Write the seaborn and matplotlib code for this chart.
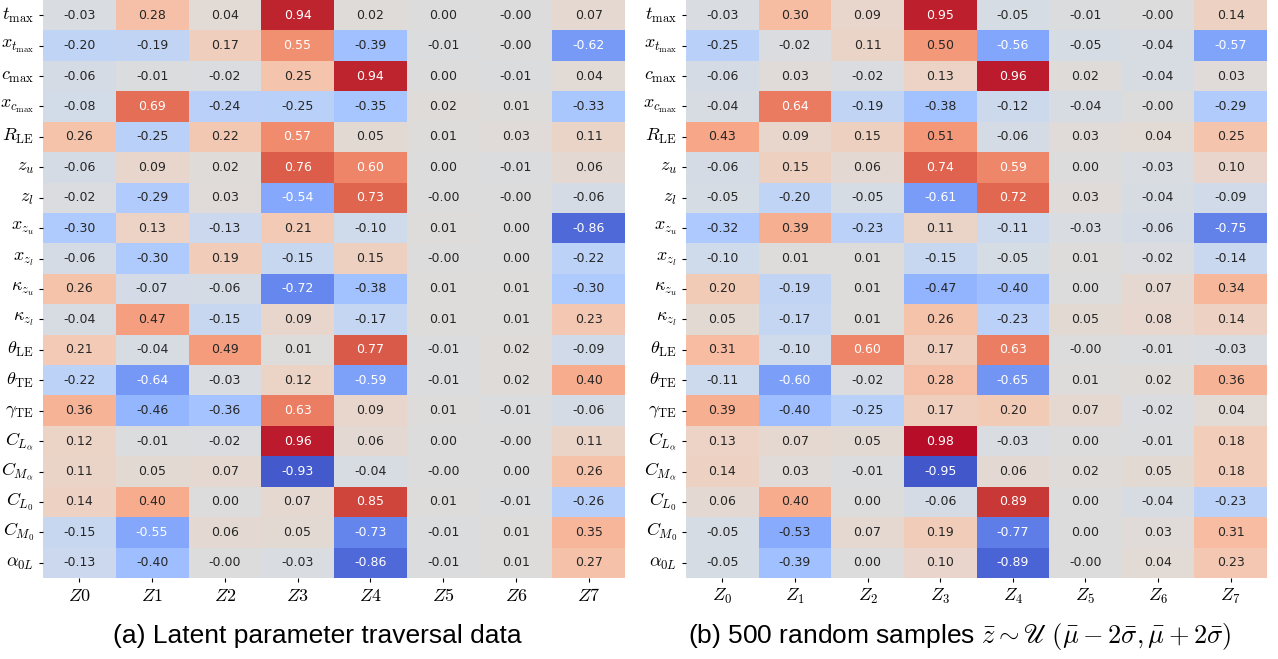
import numpy as np
import pandas as pd
import matplotlib
matplotlib.use("Agg")
import matplotlib.pyplot as plt
import seaborn as sns

plt.rcParams["mathtext.fontset"] = "cm"

# Row labels (airfoil / aerodynamic parameters)
params = [
    r"$t_{\max}$", r"$x_{t_{\max}}$", r"$c_{\max}$", r"$x_{c_{\max}}$",
    r"$R_{\mathrm{LE}}$", r"$z_u$", r"$z_l$", r"$x_{z_u}$", r"$x_{z_l}$",
    r"$\kappa_{z_u}$", r"$\kappa_{z_l}$", r"$\theta_{\mathrm{LE}}$",
    r"$\theta_{\mathrm{TE}}$", r"$\gamma_{\mathrm{TE}}$", r"$C_{L_\alpha}$",
    r"$C_{M_\alpha}$", r"$C_{L_0}$", r"$C_{M_0}$", r"$\alpha_{0L}$",
]

# Column labels (latent dimensions)
latent_a = [r"$Z0$", r"$Z1$", r"$Z2$", r"$Z3$", r"$Z4$", r"$Z5$", r"$Z6$", r"$Z7$"]
latent_b = [r"$Z_0$", r"$Z_1$", r"$Z_2$", r"$Z_3$", r"$Z_4$", r"$Z_5$", r"$Z_6$", r"$Z_7$"]

# Correlations: latent parameter traversal data
corr_traversal = [
    [-0.03, 0.28, 0.04, 0.94, 0.02, 0.00, -0.0, 0.07],
    [-0.20, -0.19, 0.17, 0.55, -0.39, -0.01, -0.0, -0.62],
    [-0.06, -0.01, -0.02, 0.25, 0.94, 0.00, -0.01, 0.04],
    [-0.08, 0.69, -0.24, -0.25, -0.35, 0.02, 0.01, -0.33],
    [0.26, -0.25, 0.22, 0.57, 0.05, 0.01, 0.03, 0.11],
    [-0.06, 0.09, 0.02, 0.76, 0.60, 0.00, -0.01, 0.06],
    [-0.02, -0.29, 0.03, -0.54, 0.73, -0.0, -0.0, -0.06],
    [-0.30, 0.13, -0.13, 0.21, -0.10, 0.01, 0.00, -0.86],
    [-0.06, -0.30, 0.19, -0.15, 0.15, -0.0, 0.00, -0.22],
    [0.26, -0.07, -0.06, -0.72, -0.38, 0.01, 0.01, -0.30],
    [-0.04, 0.47, -0.15, 0.09, -0.17, 0.01, 0.01, 0.23],
    [0.21, -0.04, 0.49, 0.01, 0.77, -0.01, 0.02, -0.09],
    [-0.22, -0.64, -0.03, 0.12, -0.59, -0.01, 0.02, 0.40],
    [0.36, -0.46, -0.36, 0.63, 0.09, 0.01, -0.01, -0.06],
    [0.12, -0.01, -0.02, 0.96, 0.06, 0.00, -0.0, 0.11],
    [0.11, 0.05, 0.07, -0.93, -0.04, -0.0, 0.00, 0.26],
    [0.14, 0.40, 0.00, 0.07, 0.85, 0.01, -0.01, -0.26],
    [-0.15, -0.55, 0.06, 0.05, -0.73, -0.01, 0.01, 0.35],
    [-0.13, -0.40, -0.0, -0.03, -0.86, -0.01, 0.01, 0.27],
]

# Correlations: 500 random samples
corr_random = [
    [-0.03, 0.30, 0.09, 0.95, -0.05, -0.01, -0.0, 0.14],
    [-0.25, -0.02, 0.11, 0.50, -0.56, -0.05, -0.04, -0.57],
    [-0.06, 0.03, -0.02, 0.13, 0.96, 0.02, -0.04, 0.03],
    [-0.04, 0.64, -0.19, -0.38, -0.12, -0.04, -0.0, -0.29],
    [0.43, 0.09, 0.15, 0.51, -0.06, 0.03, 0.04, 0.25],
    [-0.06, 0.15, 0.06, 0.74, 0.59, 0.00, -0.03, 0.10],
    [-0.05, -0.20, -0.05, -0.61, 0.72, 0.03, -0.04, -0.09],
    [-0.32, 0.39, -0.23, 0.11, -0.11, -0.03, -0.06, -0.75],
    [-0.10, 0.01, 0.01, -0.15, -0.05, 0.01, -0.02, -0.14],
    [0.20, -0.19, 0.01, -0.47, -0.40, 0.00, 0.07, 0.34],
    [0.05, -0.17, 0.01, 0.26, -0.23, 0.05, 0.08, 0.14],
    [0.31, -0.10, 0.60, 0.17, 0.63, -0.0, -0.01, -0.03],
    [-0.11, -0.60, -0.02, 0.28, -0.65, 0.01, 0.02, 0.36],
    [0.39, -0.40, -0.25, 0.17, 0.20, 0.07, -0.02, 0.04],
    [0.13, 0.07, 0.05, 0.98, -0.03, 0.00, -0.01, 0.18],
    [0.14, 0.03, -0.01, -0.95, 0.06, 0.02, 0.05, 0.18],
    [0.06, 0.40, 0.00, -0.06, 0.89, 0.00, -0.04, -0.23],
    [-0.05, -0.53, 0.07, 0.19, -0.77, 0.00, 0.03, 0.31],
    [-0.05, -0.39, 0.00, 0.10, -0.89, -0.0, 0.04, 0.23],
]

caption_a = "(a) Latent parameter traversal data"
caption_b = (r"(b) 500 random samples $\bar{z} \sim \mathscr{U}\;"
             r"(\bar{\mu}-2\bar{\sigma},\bar{\mu}+2\bar{\sigma})$")

W, H = 1278, 659
fig = plt.figure(figsize=(W / 100, H / 100), dpi=100)


def px_axes(x0, x1, y0, y1):
    return fig.add_axes([x0 / W, 1 - y1 / H, (x1 - x0) / W, (y1 - y0) / H])


ax_a = px_axes(43, 625, 0, 578)
ax_b = px_axes(686, 1267, 0, 578)

for ax, data, cols in [(ax_a, corr_traversal, latent_a), (ax_b, corr_random, latent_b)]:
    df = pd.DataFrame(data, index=params, columns=cols)
    sns.heatmap(df, ax=ax, cmap="coolwarm", vmin=-1, vmax=1, annot=True,
                fmt=".2f", cbar=False, annot_kws={"fontsize": 9})
    ax.set_yticklabels(params, rotation=0, fontsize=13)
    ax.set_xticklabels(cols, rotation=0, fontsize=13)
    ax.tick_params(axis="both", length=3, width=0.8)
    ax.set_xlabel("")
    ax.set_ylabel("")

fig.text(317 / W, 1 - 636 / H, caption_a, ha="center", va="center",
         fontsize=19, family="Liberation Sans")
fig.text(960 / W, 1 - 636 / H, caption_b, ha="center", va="center",
         fontsize=19, family="Liberation Sans")

fig.savefig("out.png", dpi=100)
